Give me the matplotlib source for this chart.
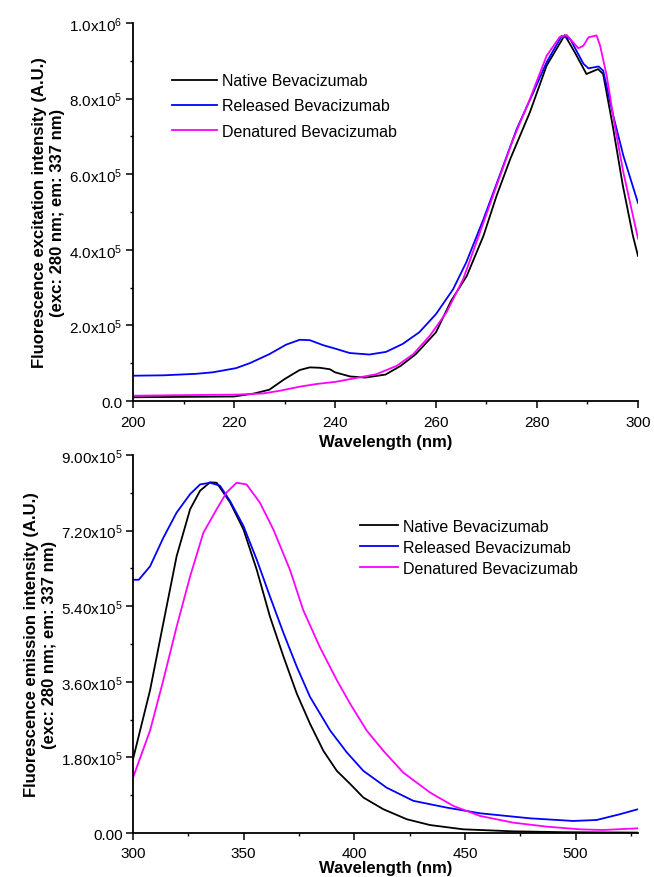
import matplotlib
matplotlib.use("Agg")
import matplotlib.pyplot as plt
from matplotlib.ticker import FixedLocator, MultipleLocator

plt.rcParams["font.family"] = ["Liberation Sans", "DejaVu Sans"]
plt.rcParams["mathtext.fontset"] = "custom"
plt.rcParams["mathtext.rm"] = "Liberation Sans"
plt.rcParams["mathtext.it"] = "Liberation Sans"

# --- excitation spectra (top panel) ---
exc_native_x = [200, 220, 224, 227, 230, 233, 235, 237, 239, 240, 243, 246, 250, 253,
                256, 260, 263, 266.1, 269.4, 272, 274.7, 278.6, 281.9, 285.5, 287.5,
                289.8, 292.1, 293.1, 295, 297, 299, 300]
exc_native_y = [0.010, 0.012, 0.020, 0.030, 0.058, 0.082, 0.089, 0.088, 0.084, 0.076,
                0.065, 0.062, 0.070, 0.093, 0.124, 0.182, 0.265, 0.331, 0.437, 0.543,
                0.640, 0.764, 0.887, 0.968, 0.922, 0.865, 0.878, 0.865, 0.728, 0.570,
                0.437, 0.384]

exc_released_x = [200, 206, 212.5, 215.8, 220.4, 223.1, 227, 230.3, 233, 235, 237.6,
                  240.2, 242.9, 246.8, 250.1, 253.4, 256.7, 260, 263.4, 266, 269.4,
                  272.7, 276, 279.3, 281.9, 284.9, 286.6, 289.2, 290.2, 292.2, 293.1,
                  295.1, 297.1, 300]
exc_released_y = [0.067, 0.068, 0.072, 0.076, 0.087, 0.100, 0.124, 0.149, 0.162, 0.161,
                  0.148, 0.138, 0.127, 0.123, 0.130, 0.151, 0.182, 0.230, 0.296, 0.367,
                  0.481, 0.600, 0.720, 0.817, 0.896, 0.966, 0.957, 0.892, 0.880, 0.885,
                  0.874, 0.755, 0.649, 0.524]

exc_denatured_x = [200, 212.5, 220.4, 225.7, 229, 233, 236.3, 240.2, 244.2, 248.2, 252.2,
                   255.5, 258.8, 262.1, 265.4, 268.7, 272, 275.3, 278.6, 281.9, 284.5,
                   285.9, 288.2, 289.2, 290.2, 291.8, 292.5, 293.8, 295.4, 297.1, 300]
exc_denatured_y = [0.014, 0.016, 0.017, 0.020, 0.027, 0.038, 0.045, 0.051, 0.061, 0.071,
                   0.093, 0.124, 0.173, 0.235, 0.323, 0.446, 0.570, 0.693, 0.799, 0.913,
                   0.963, 0.968, 0.933, 0.940, 0.962, 0.967, 0.940, 0.861, 0.728, 0.605,
                   0.430]

# --- emission spectra (bottom panel) ---
em_native_x = [300, 307.7, 313.7, 319.7, 325.8, 330.3, 334.8, 337.8, 343.9, 349.9, 355.9,
               361.9, 368, 374, 380, 386, 392.1, 398.1, 404.1, 413.1, 423.7, 434.2,
               449.2, 471.8, 494.4, 528.2]
em_native_y = [0.176, 0.340, 0.500, 0.659, 0.771, 0.815, 0.835, 0.834, 0.787, 0.723,
               0.627, 0.515, 0.420, 0.332, 0.260, 0.196, 0.148, 0.117, 0.0845, 0.0567,
               0.0328, 0.019, 0.0088, 0.004, 0.002, 0.001]

em_released_x = [300, 302.6, 307.7, 313.7, 319.7, 325.8, 330.3, 334.8, 339.3, 343.9,
                 349.9, 355.9, 361.9, 368, 374, 380, 389.1, 396.6, 404.1, 414.6, 426.7,
                 441.7, 456.8, 479.4, 499, 509.5, 520, 528.2]
em_released_y = [0.603, 0.603, 0.635, 0.703, 0.763, 0.807, 0.830, 0.834, 0.827, 0.790,
                 0.731, 0.651, 0.563, 0.476, 0.396, 0.324, 0.244, 0.192, 0.148, 0.108,
                 0.0766, 0.0606, 0.047, 0.035, 0.0287, 0.031, 0.0447, 0.0567]

em_denatured_x = [300, 307.7, 313.7, 319.7, 325.8, 331.8, 337.8, 342.3, 346.8, 351.3,
                  357.3, 363.4, 370.9, 376.9, 384.4, 392.1, 398.1, 405.6, 413.1, 422.1,
                  434.2, 444.7, 456.8, 471.8, 486.9, 501.9, 512.5, 528.2]
em_denatured_y = [0.132, 0.244, 0.364, 0.491, 0.611, 0.715, 0.771, 0.811, 0.834, 0.830,
                  0.787, 0.723, 0.627, 0.531, 0.443, 0.364, 0.308, 0.244, 0.196, 0.144,
                  0.0965, 0.0646, 0.0407, 0.0247, 0.0152, 0.0088, 0.0072, 0.0112]

labels = ["Native Bevacizumab", "Released Bevacizumab", "Denatured Bevacizumab"]
colors = ["black", "#0000ff", "#ff00ff"]

top_ticks = [0, 2e5, 4e5, 6e5, 8e5, 1e6]
top_ticklabels = ["0.0", "2.0x10$^5$", "4.0x10$^5$", "6.0x10$^5$", "8.0x10$^5$", "1.0x10$^6$"]
bot_ticks = [0, 1.8e5, 3.6e5, 5.4e5, 7.2e5, 9.0e5]
bot_ticklabels = ["0.00", "1.80x10$^5$", "3.60x10$^5$", "5.40x10$^5$", "7.20x10$^5$", "9.00x10$^5$"]

fig = plt.figure(figsize=(6.54, 8.78), dpi=100)
ax1 = fig.add_axes([0.2034, 0.5421, 0.7721, 0.4306])
ax2 = fig.add_axes([0.2034, 0.0501, 0.7721, 0.4305])


def style(ax):
    for side in ["top", "right"]:
        ax.spines[side].set_visible(False)
    for side in ["left", "bottom"]:
        ax.spines[side].set_linewidth(1.3)
    ax.tick_params(which="major", direction="out", length=5, width=1.1, labelsize=11, pad=2.5)
    ax.tick_params(which="minor", direction="out", length=2.5, width=1.0)


series_top = [(exc_native_x, exc_native_y), (exc_released_x, exc_released_y),
              (exc_denatured_x, exc_denatured_y)]
for (xs, ys), lab, c in zip(series_top, labels, colors):
    ax1.plot(xs, [v * 1e6 for v in ys], color=c, lw=1.3, label=lab)
ax1.set_xlim(200, 300)
ax1.set_ylim(0, 1e6)
ax1.xaxis.set_major_locator(MultipleLocator(20))
ax1.xaxis.set_minor_locator(MultipleLocator(10))
ax1.yaxis.set_major_locator(FixedLocator(top_ticks))
ax1.set_yticklabels(top_ticklabels)
ax1.yaxis.set_minor_locator(MultipleLocator(1e5))
style(ax1)
ax1.tick_params(axis="x", which="major", pad=5)
ax1.set_xlabel("Wavelength (nm)", fontsize=12, fontweight="bold", labelpad=4)
ax1.set_ylabel("Fluorescence excitation intensity (A.U.)\n(exc: 280 nm; em: 337 nm)",
               fontsize=12, fontweight="bold", labelpad=3, linespacing=1.25)
ax1.legend(loc="upper left", bbox_to_anchor=(0.263, 0.9155), bbox_transform=fig.transFigure,
           frameon=False, fontsize=11.5, borderpad=0, borderaxespad=0,
           handlelength=2.8, handletextpad=0.3, labelspacing=0.64)

series_bot = [(em_native_x, em_native_y), (em_released_x, em_released_y),
              (em_denatured_x, em_denatured_y)]
for (xs, ys), lab, c in zip(series_bot, labels, colors):
    ax2.plot(xs, [v * 1e6 for v in ys], color=c, lw=1.3, label=lab)
ax2.set_xlim(300, 528.2)
ax2.set_ylim(0, 9e5)
ax2.xaxis.set_major_locator(MultipleLocator(50))
ax2.xaxis.set_minor_locator(MultipleLocator(25))
ax2.yaxis.set_major_locator(FixedLocator(bot_ticks))
ax2.set_yticklabels(bot_ticklabels)
ax2.yaxis.set_minor_locator(MultipleLocator(0.9e5))
style(ax2)
ax2.tick_params(axis="x", which="major", pad=4)
ax2.set_xlabel("Wavelength (nm)", fontsize=12, fontweight="bold", labelpad=0)
ax2.set_ylabel("Fluorescence emission intensity (A.U.)\n(exc: 280 nm; em: 337 nm)",
               fontsize=12, fontweight="bold", labelpad=3, linespacing=1.25)
ax2.legend(loc="upper left", bbox_to_anchor=(0.5505, 0.4078), bbox_transform=fig.transFigure,
           frameon=False, fontsize=11.5, borderpad=0, borderaxespad=0,
           handlelength=2.4, handletextpad=0.3, labelspacing=0.37)

fig.savefig("out.png", dpi=100)
